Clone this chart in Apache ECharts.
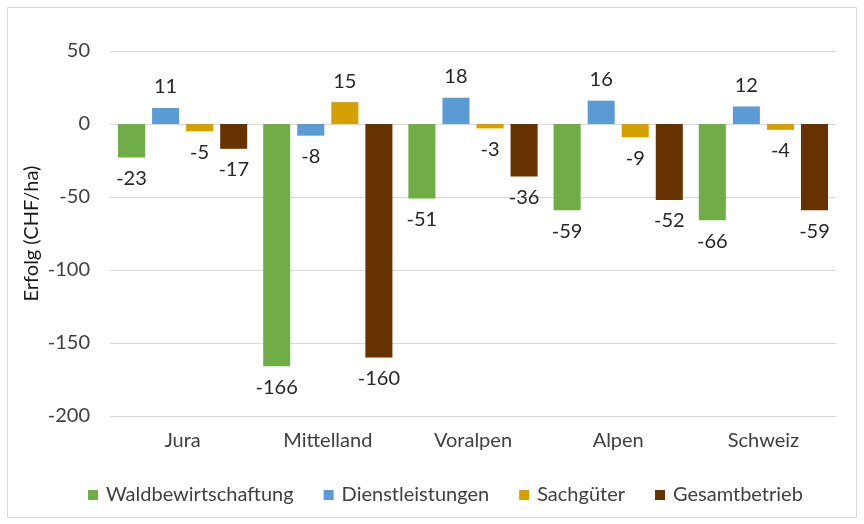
<!DOCTYPE html>
<html>
<head>
<meta charset="utf-8">
<script src="https://cdn.jsdelivr.net/npm/echarts@6/dist/echarts.min.js"></script>
<style>
  html, body { margin: 0; padding: 0; background: #fff; }
</style>
</head>
<body>
<div id="main" style="width:864px;height:524px"></div>
<script>
const categories = ['Jura', 'Mittelland', 'Voralpen', 'Alpen', 'Schweiz'];
const seriesNames = ['Waldbewirtschaftung', 'Dienstleistungen', 'Sachgüter', 'Gesamtbetrieb'];
const waldbewirtschaftung = [-23, -166, -51, -59, -66];
const dienstleistungen = [11, -8, 18, 16, 12];
const sachgueter = [-5, 15, -3, -9, -4];
const gesamtbetrieb = [-17, -160, -36, -52, -59];
const colors = ['#70AD47', '#5B9BD5', '#D4A000', '#663300'];

const font = 'Lato, "Open Sans", sans-serif';
const allValues = [waldbewirtschaftung, dienstleistungen, sachgueter, gesamtbetrieb];

const myChart = echarts.init(document.getElementById('main'));

myChart.setOption({
  animation: false,
  textStyle: { fontFamily: font },
  color: colors,
  graphic: [{
    type: 'rect',
    shape: { x: 7.5, y: 7.5, width: 849, height: 510 },
    style: { fill: 'none', stroke: '#d9d9d9', lineWidth: 1 },
    silent: true
  }],
  grid: { left: 110, right: 28, top: 51, bottom: 108 },
  legend: {
    data: seriesNames,
    left: 83,
    top: 480,
    itemWidth: 10,
    itemHeight: 10,
    itemGap: 30,
    icon: 'rect',
    textStyle: { fontSize: 20, color: '#404040', fontFamily: font, padding: [0, 0, 0, 3] }
  },
  xAxis: {
    type: 'category',
    data: categories,
    axisLine: { show: false, onZero: false },
    axisTick: { show: false },
    axisLabel: { fontSize: 20, color: '#404040', margin: 15, fontFamily: font }
  },
  yAxis: {
    type: 'value',
    min: -200,
    max: 50,
    interval: 50,
    name: 'Erfolg (CHF/ha)',
    nameLocation: 'middle',
    nameGap: 68,
    nameMoveOverlap: false,
    nameTextStyle: { fontSize: 20, color: '#1a1a1a', fontFamily: font },
    axisLabel: { fontSize: 20, color: '#404040', margin: 20, fontFamily: font },
    splitLine: { lineStyle: { color: '#d9d9d9', width: 1 } }
  },
  series: seriesNames.map((name, i) => ({
    name: name,
    type: 'bar',
    barGap: '26%',
    barCategoryGap: '11%',
    data: allValues[i].map(v => ({
      value: v,
      label: { position: v < 0 ? 'bottom' : 'top' }
    })),
    label: {
      show: true,
      distance: 11,
      fontSize: 20,
      color: '#262626',
      fontFamily: font
    }
  }))
});
</script>
</body>
</html>
